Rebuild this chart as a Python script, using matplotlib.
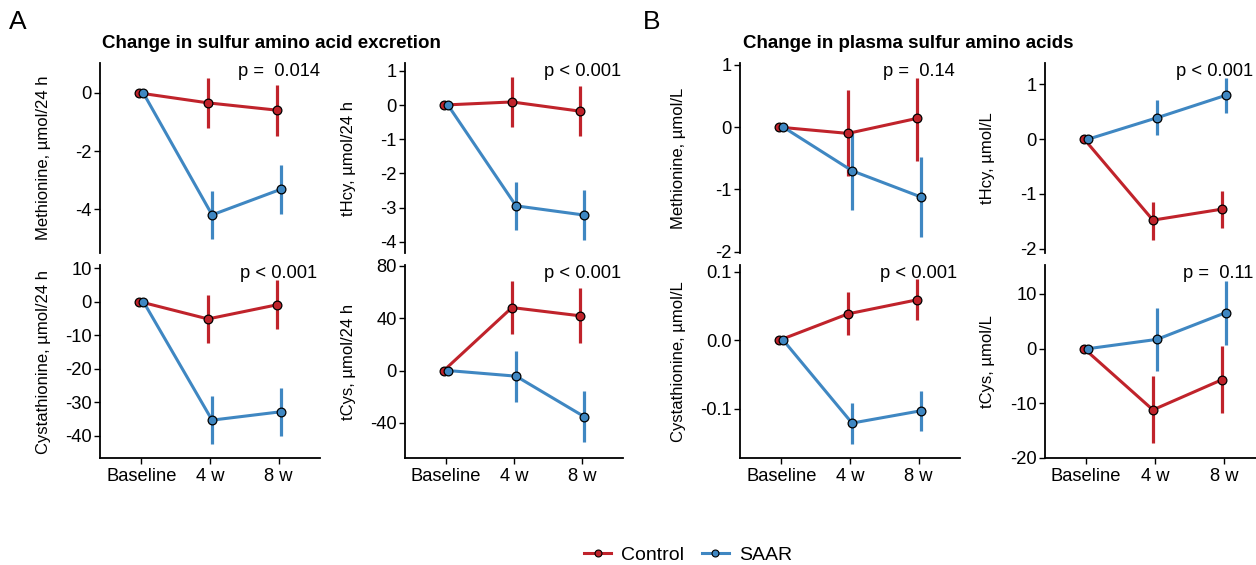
import matplotlib
matplotlib.use("Agg")
import matplotlib.pyplot as plt
from matplotlib.lines import Line2D
import numpy as np

plt.rcParams['font.family'] = ['Liberation Sans', 'DejaVu Sans']
plt.rcParams['axes.unicode_minus'] = False

# ---------------- data ----------------
timepoints = ["Baseline", "4 w", "8 w"]
groups = ["Control", "SAAR"]

# Panel A: excretion
a_met_ctrl = [0.0, -0.34, -0.59]
a_met_ctrl_lo = [0.0, -1.22, -1.49]
a_met_ctrl_hi = [0.0, 0.53, 0.29]
a_met_saar = [0.0, -4.19, -3.31]
a_met_saar_lo = [0.0, -5.03, -4.16]
a_met_saar_hi = [0.0, -3.36, -2.46]

a_thcy_ctrl = [0.0, 0.09, -0.18]
a_thcy_ctrl_lo = [0.0, -0.65, -0.92]
a_thcy_ctrl_hi = [0.0, 0.82, 0.57]
a_thcy_saar = [0.0, -2.95, -3.22]
a_thcy_saar_lo = [0.0, -3.66, -3.95]
a_thcy_saar_hi = [0.0, -2.26, -2.50]

a_cysta_ctrl = [0.0, -5.2, -1.0]
a_cysta_ctrl_lo = [0.0, -12.4, -8.3]
a_cysta_ctrl_hi = [0.0, 2.0, 6.3]
a_cysta_saar = [0.0, -35.4, -32.9]
a_cysta_saar_lo = [0.0, -42.4, -40.0]
a_cysta_saar_hi = [0.0, -28.3, -25.8]

a_tcys_ctrl = [0.0, 48.1, 41.8]
a_tcys_ctrl_lo = [0.0, 27.8, 21.0]
a_tcys_ctrl_hi = [0.0, 68.6, 62.8]
a_tcys_saar = [0.0, -4.3, -35.2]
a_tcys_saar_lo = [0.0, -24.0, -54.9]
a_tcys_saar_hi = [0.0, 15.2, -15.4]

# Panel B: plasma
b_met_ctrl = [0.0, -0.10, 0.14]
b_met_ctrl_lo = [0.0, -0.78, -0.54]
b_met_ctrl_hi = [0.0, 0.59, 0.79]
b_met_saar = [0.0, -0.70, -1.12]
b_met_saar_lo = [0.0, -1.33, -1.76]
b_met_saar_hi = [0.0, -0.07, -0.48]

b_thcy_ctrl = [0.0, -1.48, -1.28]
b_thcy_ctrl_lo = [0.0, -1.84, -1.62]
b_thcy_ctrl_hi = [0.0, -1.15, -0.95]
b_thcy_saar = [0.0, 0.39, 0.80]
b_thcy_saar_lo = [0.0, 0.07, 0.47]
b_thcy_saar_hi = [0.0, 0.71, 1.12]

b_cysta_ctrl = [0.0, 0.0386, 0.059]
b_cysta_ctrl_lo = [0.0, 0.007, 0.029]
b_cysta_ctrl_hi = [0.0, 0.070, 0.089]
b_cysta_saar = [0.0, -0.121, -0.103]
b_cysta_saar_lo = [0.0, -0.151, -0.133]
b_cysta_saar_hi = [0.0, -0.092, -0.074]

b_tcys_ctrl = [0.0, -11.2, -5.7]
b_tcys_ctrl_lo = [0.0, -17.3, -11.7]
b_tcys_ctrl_hi = [0.0, -5.0, 0.4]
b_tcys_saar = [0.0, 1.7, 6.6]
b_tcys_saar_lo = [0.0, -4.1, 0.7]
b_tcys_saar_hi = [0.0, 7.5, 12.4]

ylabels = ["Methionine, µmol/24 h", "tHcy, µmol/24 h", "Cystathionine, µmol/24 h", "tCys, µmol/24 h",
           "Methionine, µmol/L", "tHcy, µmol/L", "Cystathionine, µmol/L", "tCys, µmol/L"]
pvalues = ["p =  0.014", "p < 0.001", "p < 0.001", "p < 0.001",
           "p =  0.14", "p < 0.001", "p < 0.001", "p =  0.11"]

# ---------------- style ----------------
RED = "#C0232B"
BLUE = "#3F87C2"
W, H = 1256, 565
fig = plt.figure(figsize=(W / 100, H / 100), dpi=100)

def ax_at(x0, y0, x1, y1):
    return fig.add_axes([x0 / W, 1 - y1 / H, (x1 - x0) / W, (y1 - y0) / H])

panels = [
    dict(box=(100, 63, 320, 253), ctrl=(a_met_ctrl, a_met_ctrl_lo, a_met_ctrl_hi),
         saar=(a_met_saar, a_met_saar_lo, a_met_saar_hi), ylim=(-5.5, 1.03), ticks=[0, -2, -4],
         fmt="{:g}", bottom=False, lab=-49),
    dict(box=(405, 63, 623, 253), ctrl=(a_thcy_ctrl, a_thcy_ctrl_lo, a_thcy_ctrl_hi),
         saar=(a_thcy_saar, a_thcy_saar_lo, a_thcy_saar_hi), ylim=(-4.33, 1.23), ticks=[1, 0, -1, -2, -3, -4],
         fmt="{:g}", bottom=False, lab=-49),
    dict(box=(100, 265, 320, 458), ctrl=(a_cysta_ctrl, a_cysta_ctrl_lo, a_cysta_ctrl_hi),
         saar=(a_cysta_saar, a_cysta_saar_lo, a_cysta_saar_hi), ylim=(-46.7, 10.9), ticks=[10, 0, -10, -20, -30, -40],
         fmt="{:g}", bottom=True, lab=-49),
    dict(box=(405, 265, 623, 458), ctrl=(a_tcys_ctrl, a_tcys_ctrl_lo, a_tcys_ctrl_hi),
         saar=(a_tcys_saar, a_tcys_saar_lo, a_tcys_saar_hi), ylim=(-66.8, 80.6), ticks=[80, 40, 0, -40],
         fmt="{:g}", bottom=True, lab=-49),
    dict(box=(740, 63, 960, 253), ctrl=(b_met_ctrl, b_met_ctrl_lo, b_met_ctrl_hi),
         saar=(b_met_saar, b_met_saar_lo, b_met_saar_hi), ylim=(-2.02, 1.03), ticks=[1, 0, -1, -2],
         fmt="{:g}", bottom=False, lab=-54),
    dict(box=(1045, 63, 1265, 253), ctrl=(b_thcy_ctrl, b_thcy_ctrl_lo, b_thcy_ctrl_hi),
         saar=(b_thcy_saar, b_thcy_saar_lo, b_thcy_saar_hi), ylim=(-2.08, 1.39), ticks=[1, 0, -1, -2],
         fmt="{:g}", bottom=False, lab=-50),
    dict(box=(740, 265, 960, 458), ctrl=(b_cysta_ctrl, b_cysta_ctrl_lo, b_cysta_ctrl_hi),
         saar=(b_cysta_saar, b_cysta_saar_lo, b_cysta_saar_hi), ylim=(-0.172, 0.110), ticks=[0.1, 0.0, -0.1],
         fmt="{:.1f}", bottom=True, lab=-54),
    dict(box=(1045, 265, 1265, 458), ctrl=(b_tcys_ctrl, b_tcys_ctrl_lo, b_tcys_ctrl_hi),
         saar=(b_tcys_saar, b_tcys_saar_lo, b_tcys_saar_hi), ylim=(-20.0, 15.3), ticks=[10, 0, -10, -20],
         fmt="{:g}", bottom=True, lab=-50),
]

x = np.arange(1, len(timepoints) + 1)
dodge = 0.03
TICK_FS = 13.2

for i, p in enumerate(panels):
    ax = ax_at(*p["box"])
    for (vals, lo, hi), col, dx in ((p["ctrl"], RED, -dodge), (p["saar"], BLUE, dodge)):
        vals = np.array(vals); lo = np.array(lo); hi = np.array(hi)
        xx = x + dx
        ax.vlines(xx[1:], lo[1:], hi[1:], color=col, lw=2.3, zorder=2)
        ax.plot(xx, vals, color=col, lw=2.2, zorder=3, solid_capstyle="butt")
        ax.plot(xx, vals, ls="none", marker="o", ms=6.3, mfc=col, mec="black", mew=0.9, zorder=4)
    ax.set_xlim(0.4, 3.6)
    ax.set_ylim(*p["ylim"])
    ax.set_yticks(p["ticks"])
    ax.set_yticklabels([p["fmt"].format(t) for t in p["ticks"]])
    for s in ("top", "right"):
        ax.spines[s].set_visible(False)
    ax.spines["left"].set_linewidth(1.3)
    ax.tick_params(axis="y", labelsize=TICK_FS, length=4, width=1.0, pad=2, colors="black")
    if p["bottom"]:
        ax.spines["bottom"].set_linewidth(1.3)
        ax.set_xticks(x)
        ax.set_xticklabels(timepoints)
        ax.tick_params(axis="x", labelsize=TICK_FS, length=4, width=1.0, pad=3)
    else:
        ax.spines["bottom"].set_visible(False)
        ax.set_xticks([])
    ax.set_ylabel(ylabels[i], fontsize=12)
    bw = p["box"][2] - p["box"][0]
    ax.yaxis.set_label_coords(p["lab"] / bw, 0.5)
    ax.patch.set_alpha(0)
    if p["box"][2] > W:
        # keep the label inside the figure edge
        ax.text((W - 3) / W, 0.955, pvalues[i], transform=ax.get_xaxis_transform().__class__(fig.transFigure, ax.transAxes) if False else
                matplotlib.transforms.blended_transform_factory(fig.transFigure, ax.transAxes),
                ha="right", va="center", fontsize=TICK_FS)
    else:
        ax.text(3, 0.955, pvalues[i], transform=ax.get_xaxis_transform(), ha="center", va="center",
                fontsize=TICK_FS)

fig.text(18 / W, 1 - 22 / H, "A", fontsize=19, ha="center", va="center")
fig.text(652 / W, 1 - 22 / H, "B", fontsize=19, ha="center", va="center")
fig.text(271 / W, 1 - 43 / H, "Change in sulfur amino acid excretion", fontsize=13.5,
         fontweight="bold", ha="center", va="center")
fig.text(908 / W, 1 - 43 / H, "Change in plasma sulfur amino acids", fontsize=13.5,
         fontweight="bold", ha="center", va="center")

handles = [Line2D([], [], color=RED, lw=2.2, marker="o", ms=5, mfc=RED, mec="black", mew=0.8),
           Line2D([], [], color=BLUE, lw=2.2, marker="o", ms=5, mfc=BLUE, mec="black", mew=0.8)]
fig.legend(handles, groups, loc="center", bbox_to_anchor=(688 / W, 1 - 555 / H), ncol=2,
           frameon=False, fontsize=14, handlelength=1.4, columnspacing=0.9, handletextpad=0.5)

fig.savefig("out.png", dpi=100)
